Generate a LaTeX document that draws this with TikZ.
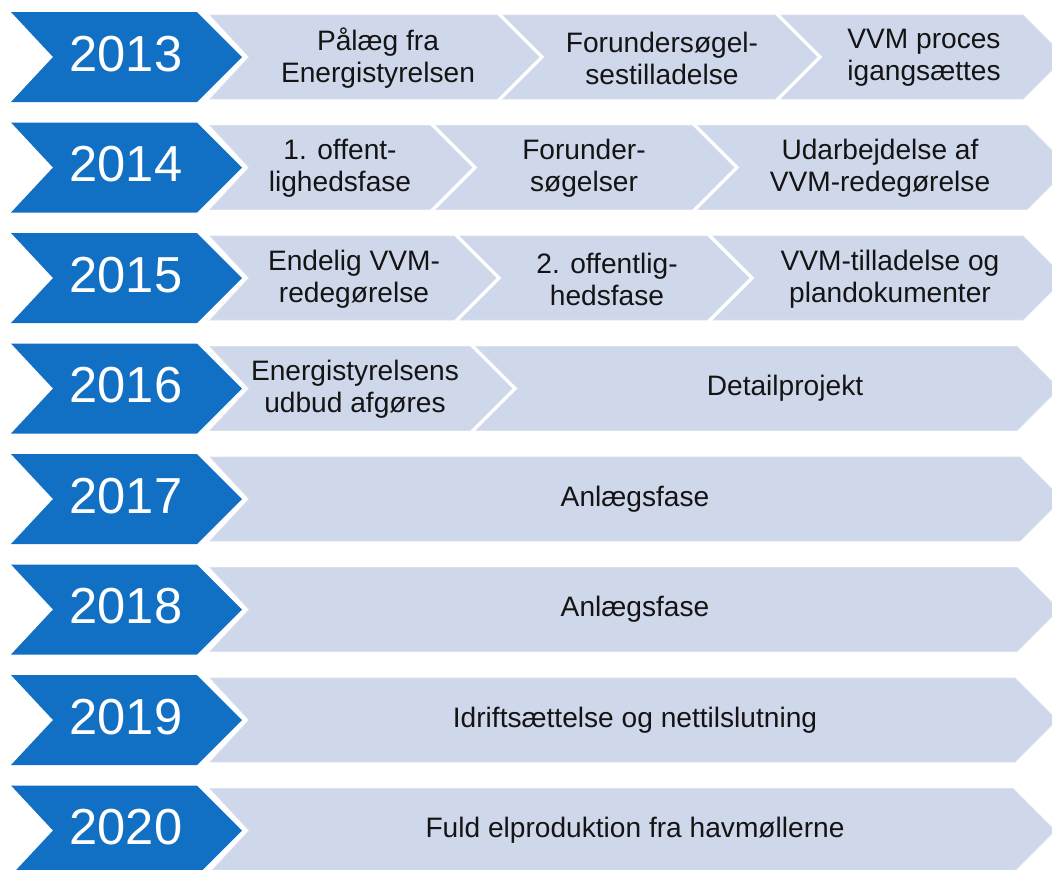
\documentclass[tikz,border=0pt]{standalone}
\usepackage{fontspec}
\setmainfont{Liberation Sans}
\definecolor{yearblue}{HTML}{1170C4}
\definecolor{barfill}{HTML}{CFD7EA}
\definecolor{baredge}{HTML}{DAE0EF}
\definecolor{txt}{HTML}{141414}
\tikzset{
  yearlabel/.style={text=white,font=\fontsize{36pt}{40pt}\selectfont,inner sep=0pt},
  seglabel/.style={text=txt,font=\fontsize{20pt}{22.7pt}\selectfont,align=center,inner sep=0pt},
  yearshape/.style={fill=yearblue},
  barshape/.style={fill=barfill,draw=baredge,line width=0.5pt},
  sepline/.style={draw=white,line width=2.4pt,line join=miter}
}
\begin{document}
\begin{tikzpicture}[x=0.025cm,y=-0.025cm]
\useasboundingbox (0,0) rectangle (1052,869);
\clip (0,0) rectangle (1052,869);
% rows: top y / right end x / year
\foreach \t/\xr/\yr in {12/1023/2013,122.5/1027/2014,233/1023/2015,343.5/1017/2016,454/1020/2017,564.5/1017/2018,675/1015/2019,785.5/1013/2020}{
  \path[yearshape] (11,\t) -- (197,\t) -- (242,{\t+45}) -- (197,{\t+90}) -- (11,{\t+90}) -- (53,{\t+45}) -- cycle;
  \path[barshape] (210,{\t+3}) -- (\xr,{\t+3}) -- ({\xr+42},{\t+45}) -- (\xr,{\t+87}) -- (210,{\t+87}) -- (249,{\t+45}) -- cycle;
  \node[yearlabel] (y\yr) at (126,{\t+42}) {\yr};
}
% separators between segments
\foreach \t/\xb in {12/500,12/778,122.5/433,122.5/695,233/457,233/710,343.5/473}{
  \draw[sepline] (\xb-2,{\t+1}) -- ({\xb+42},{\t+45}) -- (\xb-2,{\t+89});
}
% row 2013
\node[seglabel] (a1) at (378,58) {Pålæg fra\\Energistyrelsen};
\node[seglabel] (a2) at (662,58) {Forundersøgel-\\sestilladelse};
\node[seglabel] (a3) at (924,58) {VVM proces\\igangsættes};
% row 2014
\node[seglabel] (b1) at (340,168.5) {1. offent-\\lighedsfase};
\node[seglabel] (b2) at (584,168.5) {Forunder-\\søgelser};
\node[seglabel] (b3) at (880,168.5) {Udarbejdelse af\\VVM-redegørelse};
% row 2015
\node[seglabel] (c1) at (354,279) {Endelig VVM-\\redegørelse};
\node[seglabel] (c2) at (607,279) {2. offentlig-\\hedsfase};
\node[seglabel] (c3) at (890,279) {VVM-tilladelse og\\plandokumenter};
% row 2016
\node[seglabel] (d1) at (355,389.5) {Energistyrelsens\\udbud afgøres};
\node[seglabel] (d2) at (785,388.5) {Detailprojekt};
% rows 2017-2020
\node[seglabel] (e1) at (635,499) {Anlægsfase};
\node[seglabel] (f1) at (635,609.5) {Anlægsfase};
\node[seglabel] (g1) at (635,720) {Idriftsættelse og nettilslutning};
\node[seglabel] (h1) at (635,830.5) {Fuld elproduktion fra havmøllerne};
\end{tikzpicture}
\end{document}
